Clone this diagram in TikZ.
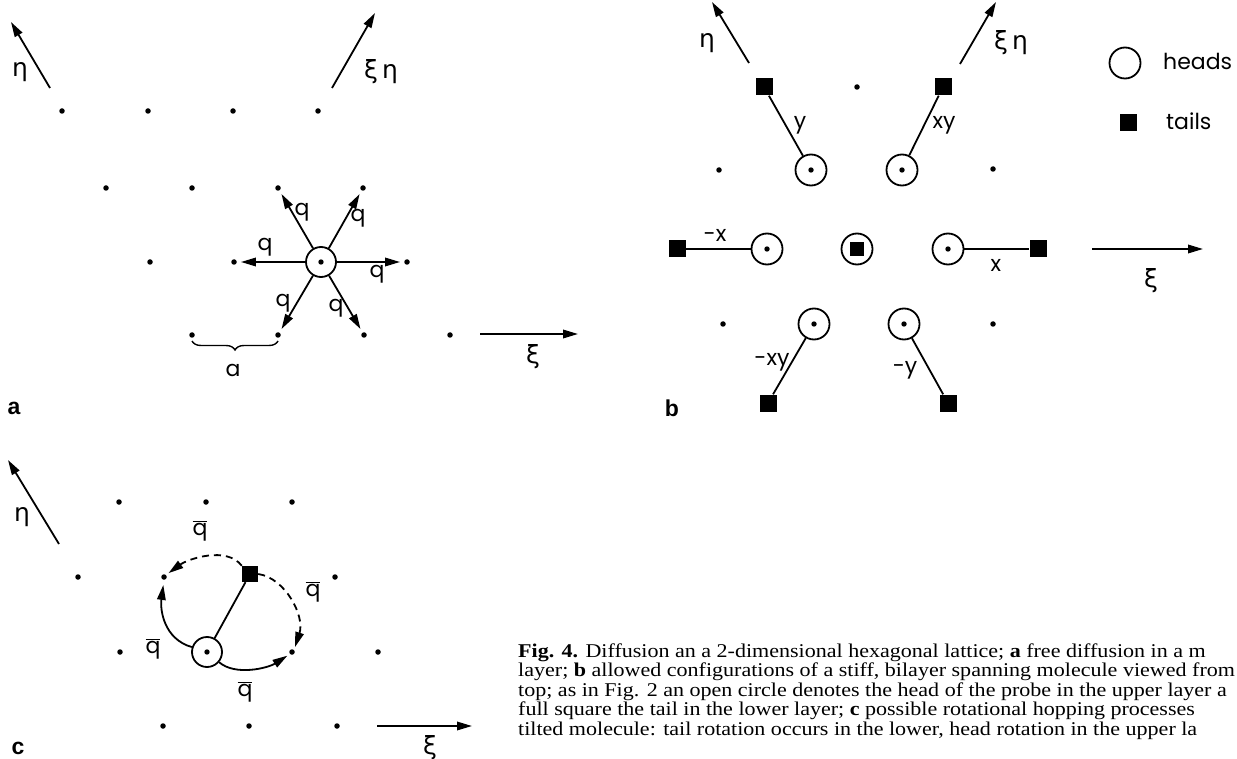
\documentclass[tikz,border=0pt]{standalone}
\usepackage{fontspec}
\setmainfont{Liberation Serif}
\newfontfamily\capfont[FakeStretch=1.13]{Liberation Serif}
\newfontfamily\lblfont{Poppins}
\newfontfamily\greekfont{DejaVu Sans}
\newfontfamily\panelfont{Liberation Sans}
\usetikzlibrary{arrows.meta,decorations.pathreplacing}
\newcommand\qbarlbl{$\overline{\hbox{q}}$}
\begin{document}
\begin{tikzpicture}[x=1pt,y=-1pt,
  dot/.style={circle,fill,inner sep=0pt,minimum size=5.5pt},
  head/.style={circle,draw,line width=1.8pt,inner sep=0pt,minimum size=31pt,
    path picture={\fill (path picture bounding box.center) circle (2.7pt);}},
  ring/.style={circle,draw,line width=1.8pt,inner sep=0pt,minimum size=31pt},
  tail/.style={rectangle,fill,inner sep=0pt,minimum size=17pt},
  lbl/.style={font=\lblfont\fontsize{22}{26}\selectfont,inner sep=0pt},
  grk/.style={font=\greekfont\fontsize{25}{29}\selectfont,inner sep=0pt},
  panel/.style={font=\panelfont\bfseries\fontsize{23}{27}\selectfont,inner sep=0pt},
  conn/.style={line width=1.8pt},
  arr/.style={line width=1.8pt,-{Triangle[length=15pt,width=8.5pt]}},
  captext/.style={font=\capfont\fontsize{19.5}{22}\selectfont,inner sep=0pt,anchor=base west},
]
\useasboundingbox (0,0) rectangle (1237,759);
\fill[white] (0,0) rectangle (1237,759);

% ---------------- panel a ----------------
\foreach \n/\x/\y in {a11/62/111,a12/148/111,a13/233/111,a14/318/111,
  a21/106/188,a22/192/188,a23/278/188,a24/363/188,
  a31/150/262,a32/234/262,a34/407/262,
  a41/192/335,a42/278/335,a43/364/335,a44/450/335}
  \node[dot] (\n) at (\x,\y) {};
\node[head,minimum size=30pt] (ca) at (321,262) {};
\foreach \t in {a23,a24,a32,a34,a42,a43}
  \draw[arr,shorten >=4pt] (ca) -- (\t);
\node[lbl] (qa1) at (302,212) {q};
\node[lbl] (qa2) at (358,218) {q};
\node[lbl] (qa3) at (265,247) {q};
\node[lbl] (qa4) at (377,274) {q};
\node[lbl] (qa5) at (283,303) {q};
\node[lbl] (qa6) at (336,308) {q};
\draw[decorate,decoration={brace,mirror,amplitude=9pt},line width=1.4pt]
  ([yshift=-6pt]a41.center) -- ([yshift=-6pt]a42.center);
\node[lbl] (alat) at (233,370) {a};
\coordinate (aEtaS) at (50,88);  \coordinate (aEtaE) at (11,22);
\draw[arr] (aEtaS) -- (aEtaE);
\node[grk] (aEta) at (20,72) {η};
\coordinate (aXiEtaS) at (332,88); \coordinate (aXiEtaE) at (375,13);
\draw[arr] (aXiEtaS) -- (aXiEtaE);
\node[grk] (aXiEta) at (381,72) {ξ\,η};
\coordinate (aXiS) at (480,334); \coordinate (aXiE) at (578,334);
\draw[arr] (aXiS) -- (aXiE);
\node[grk] (aXi) at (533,357) {ξ};
\node[panel] (pa) at (14,408) {a};

% ---------------- panel b ----------------
\node[tail] (bS1) at (764,87) {};
\node[dot]  (bD1) at (857,87) {};
\node[tail] (bS2) at (943,87) {};
\node[dot]  (bD2) at (719,170) {};
\node[head] (bH1) at (811,170) {};
\node[head] (bH2) at (902,170) {};
\node[dot]  (bD3) at (993,169) {};
\node[tail] (bS3) at (677,249) {};
\node[head] (bH3) at (767,249) {};
\node[ring] (bHc) at (857,249) {};
\node[tail,minimum size=14pt] (bHcS) at (857,249) {};
\node[head] (bH4) at (948,249) {};
\node[tail] (bS4) at (1038,249) {};
\node[dot]  (bD4) at (723,324) {};
\node[head] (bH5) at (814,324) {};
\node[head] (bH6) at (904,324) {};
\node[dot]  (bD5) at (993,324) {};
\node[tail] (bS5) at (768,403) {};
\node[tail] (bS6) at (948,403) {};
\draw[conn] (bS1) -- (bH1);
\draw[conn] (bS2) -- (bH2);
\draw[conn] (bS3) -- (bH3);
\draw[conn] (bH4) -- (bS4);
\draw[conn] (bH5) -- (bS5);
\draw[conn] (bH6) -- (bS6);
\node[lbl] (by)   at (800,125) {y};
\node[lbl] (bxy)  at (944,125) {xy};
\node[lbl] (bmx)  at (715,235) {-x};
\node[lbl] (bx)   at (996,265) {x};
\node[lbl] (bmxy) at (772,362) {-xy};
\node[lbl] (bmy)  at (905,370) {-y};
\coordinate (bEtaS) at (749,63); \coordinate (bEtaE) at (712,2);
\draw[arr] (bEtaS) -- (bEtaE);
\node[grk] (bEta) at (707,43) {η};
\coordinate (bXiEtaS) at (960,64); \coordinate (bXiEtaE) at (996,2);
\draw[arr] (bXiEtaS) -- (bXiEtaE);
\node[grk] (bXiEta) at (1011,43) {ξ\,η};
\coordinate (bXiS) at (1092,249); \coordinate (bXiE) at (1203,249);
\draw[arr] (bXiS) -- (bXiE);
\node[grk] (bXi) at (1151,281) {ξ};
\node[ring] (legH) at (1125,63) {};
\node[lbl,anchor=base west] (legHt) at (1163,70) {heads};
\node[tail] (legT) at (1128,123) {};
\node[lbl,anchor=base west] (legTt) at (1166,130) {tails};
\node[panel] (pb) at (672,408) {b};

% ---------------- panel c ----------------
\foreach \n/\x/\y in {c11/119/502,c12/206/502,c13/292/502,
  c21/78/577,cL/164/577,c24/335/577,
  c31/120/652,cR/292/652,c34/378/652,
  c41/163/726,c42/249/726,c43/337/726}
  \node[dot] (\n) at (\x,\y) {};
\node[tail,minimum size=16pt] (cS) at (250,574) {};
\node[head,minimum size=30pt] (cC) at (207,652) {};
\draw[conn] (cC) -- (cS);
\draw[arr,dashed,dash pattern=on 7pt off 5pt,shorten >=3pt]
  (cS.north west) .. controls +(-15,-20) and +(22,-16) .. (cL.north east);
\draw[arr,dashed,dash pattern=on 7pt off 5pt,shorten >=3pt]
  (cS.east) .. controls +(27,4) and +(11,-34) .. (cR.north east);
\draw[arr,shorten >=5pt]
  (cC.162) .. controls +(-28,-8) and +(-4,30) .. (cL.south);
\draw[arr,shorten >=3pt]
  (cC.-40) .. controls +(16,14) and +(-22,14) .. (cR.south west);
\node[lbl] (qc1) at (200,531) {\qbarlbl};
\node[lbl] (qc2) at (313,592) {\qbarlbl};
\node[lbl] (qc3) at (153,649) {\qbarlbl};
\node[lbl] (qc4) at (245,692) {\qbarlbl};
\coordinate (cEtaS) at (59,544); \coordinate (cEtaE) at (8,460);
\draw[arr] (cEtaS) -- (cEtaE);
\node[grk] (cEta) at (22,517) {η};
\coordinate (cXiS) at (377,726); \coordinate (cXiE) at (472,726);
\draw[arr] (cXiS) -- (cXiE);
\node[grk] (cXi) at (430,748) {ξ};
\node[panel] (pc) at (18,748) {c};

% ---------------- caption ----------------
\node[captext] (cap1) at (518,657) {\textbf{Fig. 4.} Diffusion an a 2-dimensional hexagonal lattice; \textbf{a} free diffusion in a m};
\node[captext] (cap2) at (518,676.5) {layer; \textbf{b} allowed configurations of a stiff, bilayer spanning molecule viewed from};
\node[captext] (cap3) at (518,696) {top; as in Fig. 2 an open circle denotes the head of the probe in the upper layer a};
\node[captext] (cap4) at (518,715.5) {full square the tail in the lower layer; \textbf{c} possible rotational hopping processes};
\node[captext] (cap5) at (518,735) {tilted molecule: tail rotation occurs in the lower, head rotation in the upper la};
\end{tikzpicture}
\end{document}
